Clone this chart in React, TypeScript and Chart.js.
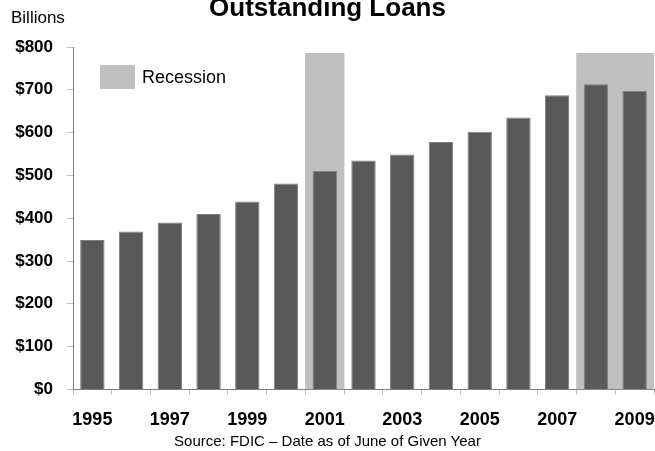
import React, { useEffect, useRef } from "react";
import { Chart, registerables } from "chart.js";

Chart.register(...registerables);

const years = ["1995","1996","1997","1998","1999","2000","2001","2002","2003","2004","2005","2006","2007","2008","2009"];
const loans = [349, 369, 390, 410, 439, 481, 510, 535, 549, 578, 602, 635, 687, 713, 697];
const recession = [null, null, null, null, null, null, 785, null, null, null, null, null, null, 785, 785];
const yTicks = [0, 100, 200, 300, 400, 500, 600, 700, 800];

const FONT = '"Liberation Sans", Arial, Helvetica, sans-serif';

export default function App() {
  const ref = useRef<HTMLCanvasElement | null>(null);

  useEffect(() => {
    if (!ref.current) return;
    const chart = new Chart(ref.current, {
      type: "bar",
      data: {
        labels: years,
        datasets: [
          {
            label: "Loans",
            data: loans,
            backgroundColor: "#595959",
            borderColor: "#7f7f7f",
            borderWidth: 1,
            barPercentage: 0.63,
            categoryPercentage: 1,
            grouped: false,
            order: 1,
          },
          {
            label: "Recession",
            data: recession as any,
            backgroundColor: "#c0c0c0",
            borderWidth: 0,
            barPercentage: 1,
            categoryPercentage: 1,
            grouped: false,
            order: 2,
          },
        ],
      },
      options: {
        animation: false,
        responsive: false,
        maintainAspectRatio: false,
        layout: { padding: { top: 47, left: 0, right: 1, bottom: 5 } },
        plugins: {
          legend: { display: false },
          title: { display: false },
          tooltip: { enabled: false },
        },
        scales: {
          x: {
            offset: true,
            afterFit: (s: any) => { s.paddingRight = 0; s.paddingLeft = 0; },
            grid: {
              offset: true,
              drawOnChartArea: false,
              drawTicks: true,
              tickLength: 5,
              color: "#bfbfbf",
            },
            border: { color: "#808080", width: 1 },
            ticks: {
              autoSkip: false,
              maxRotation: 0,
              padding: 15,
              color: "#000",
              font: { family: FONT, size: 18, weight: "bold" },
              callback: (_v: any, i: number) => (i % 2 === 0 ? years[i] : ""),
            },
          },
          y: {
            min: 0,
            max: 800,
            afterFit: (s: any) => { s.width = 73; },
            afterBuildTicks: (s: any) => { s.ticks = yTicks.map((v) => ({ value: v })); },
            grid: {
              drawOnChartArea: false,
              drawTicks: true,
              tickLength: 6,
              color: "#bfbfbf",
            },
            border: { color: "#808080", width: 1 },
            ticks: {
              padding: 14,
              color: "#000",
              font: { family: FONT, size: 17, weight: "bold" },
              callback: (v: any) => "$" + v,
            },
          },
        },
      },
    });
    return () => chart.destroy();
  }, []);

  return (
    <div style={{ position: "fixed", left: 0, top: 0, width: 655, height: 451, background: "#fff", overflow: "hidden", fontFamily: FONT }}>
      <canvas ref={ref} width={655} height={451} style={{ position: "absolute", left: 0, top: 0 }} />
      <div style={{ position: "absolute", left: 0, width: 655, top: -6, textAlign: "center", fontSize: 26, lineHeight: "26px", fontWeight: "bold", color: "#000" }}>
        Outstanding Loans
      </div>
      <div style={{ position: "absolute", left: 11, top: 9, fontSize: 17, lineHeight: "17px", color: "#000" }}>Billions</div>
      <div style={{ position: "absolute", left: 100, top: 65, width: 35, height: 24, background: "#c0c0c0" }} />
      <div style={{ position: "absolute", left: 142, top: 65, fontSize: 18, lineHeight: "24px", color: "#000" }}>Recession</div>
      <div style={{ position: "absolute", left: 0, width: 655, top: 433, textAlign: "center", fontSize: 15, lineHeight: "15px", color: "#000" }}>
        Source: FDIC – Date as of June of Given Year
      </div>
    </div>
  );
}
